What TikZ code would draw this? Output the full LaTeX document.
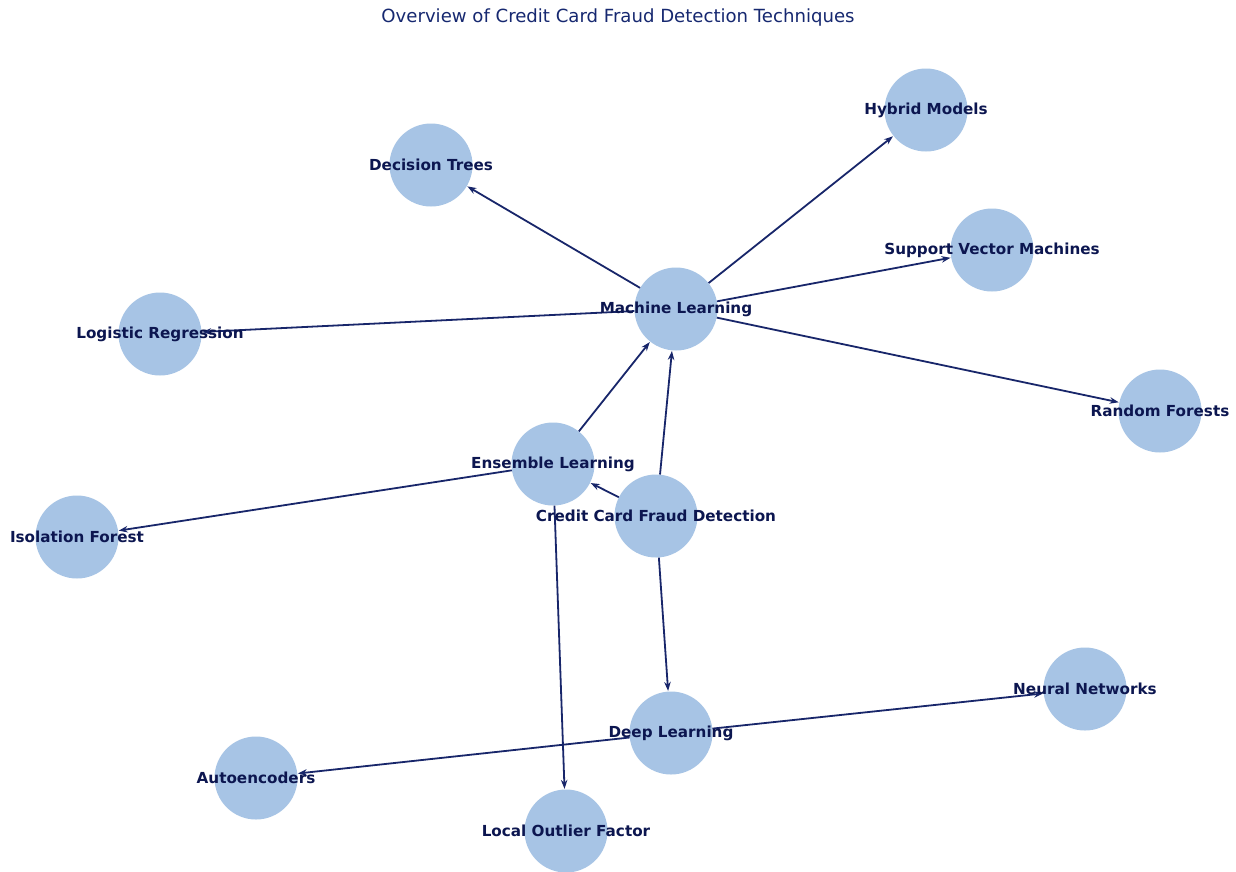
\documentclass[tikz,border=0pt]{standalone}
\usepackage{fontspec}
\setmainfont{DejaVu Sans}
\usetikzlibrary{arrows.meta}
\definecolor{nodefill}{RGB}{167,196,229}
\definecolor{labtext}{RGB}{12,22,80}
\definecolor{edgecol}{RGB}{24,38,106}
\definecolor{titlecol}{RGB}{22,40,112}
\tikzset{
  blob/.style={circle,fill=nodefill,draw=none,minimum size=83pt,inner sep=0pt},
  lab/.style={text=labtext,font=\fontsize{15.2}{17}\selectfont\bfseries,inner sep=0pt},
  edge/.style={draw=edgecol,line width=1.8pt,-{Stealth[length=9pt,width=6.5pt]},shorten >=0.5pt},
  ttl/.style={text=titlecol,font=\fontsize{18.1}{20}\selectfont,inner sep=0pt}
}
\begin{document}
\begin{tikzpicture}[x=1pt,y=-1pt]
\path[use as bounding box,fill=white] (0,0) rectangle (1236,871);
\node[ttl] (title) at (618,18) {Overview of Credit Card Fraud Detection Techniques};
% circles
\node[blob] (hm) at (926,110) {};
\node[blob] (dt) at (431,165) {};
\node[blob] (svm) at (992,250) {};
\node[blob] (ml) at (676,309) {};
\node[blob] (lr) at (160,334) {};
\node[blob] (rf) at (1160,411) {};
\node[blob] (el) at (553,464) {};
\node[blob] (cc) at (656,516) {};
\node[blob] (if) at (77,537) {};
\node[blob] (nn) at (1085,689) {};
\node[blob] (dl) at (671,733) {};
\node[blob] (ae) at (256,778) {};
\node[blob] (lof) at (566,831) {};
% edges
\draw[edge] (ml) -- (dt);
\draw[edge] (ml) -- (hm);
\draw[edge] (ml) -- (svm);
\draw[edge] (ml) -- (lr);
\draw[edge] (ml) -- (rf);
\draw[edge] (el) -- (ml);
\draw[edge] (cc) -- (ml);
\draw[edge] (cc) -- (el);
\draw[edge] (cc) -- (dl);
\draw[edge] (el) -- (if);
\draw[edge] (el) -- (lof);
\draw[edge] (dl) -- (nn);
\draw[edge] (dl) -- (ae);
% labels
\node[lab] (hmL) at (hm) {Hybrid Models};
\node[lab] (dtL) at (dt) {Decision Trees};
\node[lab] (svmL) at (svm) {Support Vector Machines};
\node[lab] (mlL) at (ml) {Machine Learning};
\node[lab] (lrL) at (lr) {Logistic Regression};
\node[lab] (rfL) at (rf) {Random Forests};
\node[lab] (elL) at (el) {Ensemble Learning};
\node[lab] (ccL) at (cc) {Credit Card Fraud Detection};
\node[lab] (ifL) at (if) {Isolation Forest};
\node[lab] (nnL) at (nn) {Neural Networks};
\node[lab] (dlL) at (dl) {Deep Learning};
\node[lab] (aeL) at (ae) {Autoencoders};
\node[lab] (lofL) at (lof) {Local Outlier Factor};
\end{tikzpicture}
\end{document}
